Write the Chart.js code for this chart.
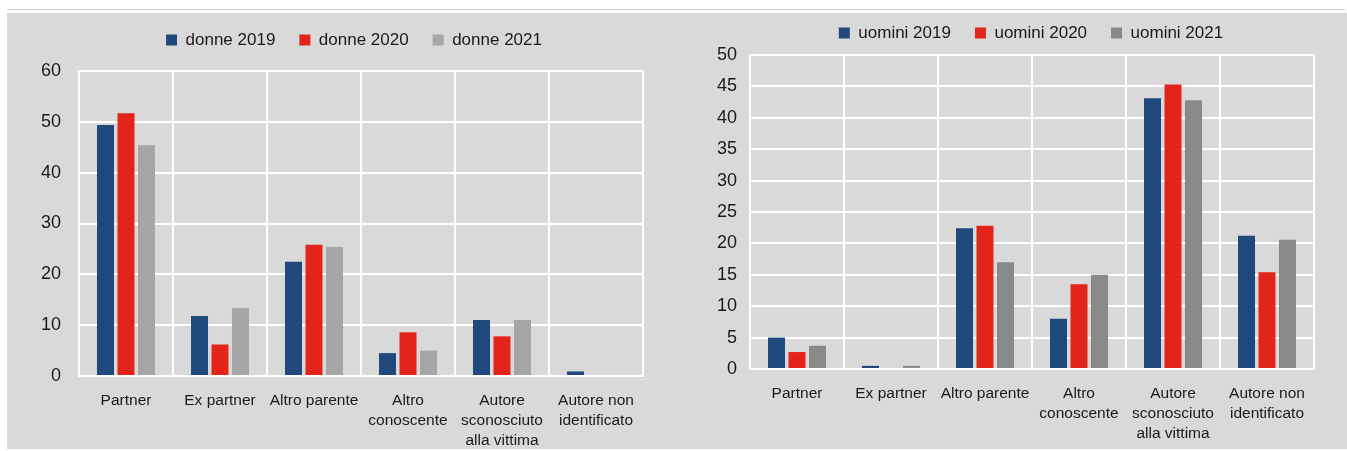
<!DOCTYPE html>
<html><head><meta charset="utf-8">
<script src="https://cdn.jsdelivr.net/npm/chart.js@4"></script>
<style>
html,body{margin:0;padding:0;background:#fff;width:1347px;height:451px;overflow:hidden;}
#topline{position:absolute;left:7px;top:9px;width:1338px;height:1px;background:#d6d6d6;}
#panel{position:absolute;left:7px;top:13px;width:1340px;height:436px;background:#d9d9d9;}
#c1{position:absolute;left:7px;top:13px;}
#c2{position:absolute;left:673px;top:13px;}
</style></head><body>
<div id="topline"></div>
<div id="panel"></div>
<canvas id="c1" width="666" height="436"></canvas>
<canvas id="c2" width="674" height="436"></canvas>
<script>
// ---- data ----
const categories = [['Partner'], ['Ex partner'], ['Altro parente'], ['Altro', 'conoscente'], ['Autore', 'sconosciuto', 'alla vittima'], ['Autore non', 'identificato']];
const donneSeriesNames = ['donne 2019', 'donne 2020', 'donne 2021'];
const donne2019 = [49.4, 11.8, 22.5, 4.5, 11.0, 0.9];
const donne2020 = [51.7, 6.2, 25.8, 8.6, 7.8, 0];
const donne2021 = [45.4, 13.4, 25.4, 5.0, 11.0, 0];
const uominiSeriesNames = ['uomini 2019', 'uomini 2020', 'uomini 2021'];
const uomini2019 = [5.0, 0.5, 22.4, 8.0, 43.1, 21.2];
const uomini2020 = [2.7, 0, 22.8, 13.5, 45.3, 15.4];
const uomini2021 = [3.7, 0.5, 17.0, 15.0, 42.8, 20.6];
const donneAxis = { min: 0, max: 60, step: 10 };
const uominiAxis = { min: 0, max: 50, step: 5 };

// ---- styles ----
const FONT = '"Liberation Sans", Arial, sans-serif';
const TEXT = '#1a1a1a';
const donneColors = ['#1f497d', '#e3241b', '#a6a6a6'];
const uominiColors = ['#1f497d', '#e3241b', '#898989'];

function makeChart(id, names, series, colors, axis, L) {
  return new Chart(document.getElementById(id), {
    type: 'bar',
    data: {
      labels: categories,
      datasets: series.map((s, i) => ({
        label: names[i], data: s, backgroundColor: colors[i], borderWidth: 0,
        categoryPercentage: 0.654, barPercentage: 0.83
      }))
    },
    options: {
      responsive: false, animation: false,
      layout: { padding: { top: L.top, left: L.left, right: 0, bottom: 0 } },
      plugins: {
        tooltip: { enabled: false },
        legend: {
          position: 'top',
          labels: { boxWidth: 11, boxHeight: 11, padding: 24, color: TEXT, font: { family: FONT, size: 17 } }
        },
        subtitle: {
          display: true, text: '', position: 'top', weight: 0,
          font: { size: 1, lineHeight: 1 }, padding: { top: 0, bottom: L.spacer - 1 }
        }
      },
      scales: {
        x: {
          grid: { color: '#ffffff', lineWidth: 2, drawTicks: false },
          border: { color: '#ffffff', width: 2 },
          ticks: { color: TEXT, font: { family: FONT, size: 15.5, lineHeight: 1.29 }, padding: 15, maxRotation: 0, autoSkip: false },
          afterFit: s => { s.height = L.xh; }
        },
        y: {
          min: axis.min, max: axis.max,
          grid: { color: '#ffffff', lineWidth: 2, drawTicks: false },
          border: { color: '#ffffff', width: 2 },
          ticks: { stepSize: axis.step, color: TEXT, font: { family: FONT, size: 18 }, padding: L.tp },
          afterFit: s => { s.width = L.yw; }
        },
        yr: {
          position: 'right', display: true,
          ticks: { display: false }, grid: { display: false }, border: { display: false },
          afterFit: s => { s.width = L.rw; }
        }
      }
    }
  });
}

makeChart('c1', donneSeriesNames, [donne2019, donne2020, donne2021], donneColors, donneAxis,
  { top: -5.5, left: 28, yw: 44, rw: 30, tp: 18, xh: 73, spacer: 12.5 });
makeChart('c2', uominiSeriesNames, [uomini2019, uomini2020, uomini2021], uominiColors, uominiAxis,
  { top: -12.5, left: 42, yw: 35, rw: 33, tp: 13, xh: 80, spacer: 3.5 });
</script>
</body></html>
